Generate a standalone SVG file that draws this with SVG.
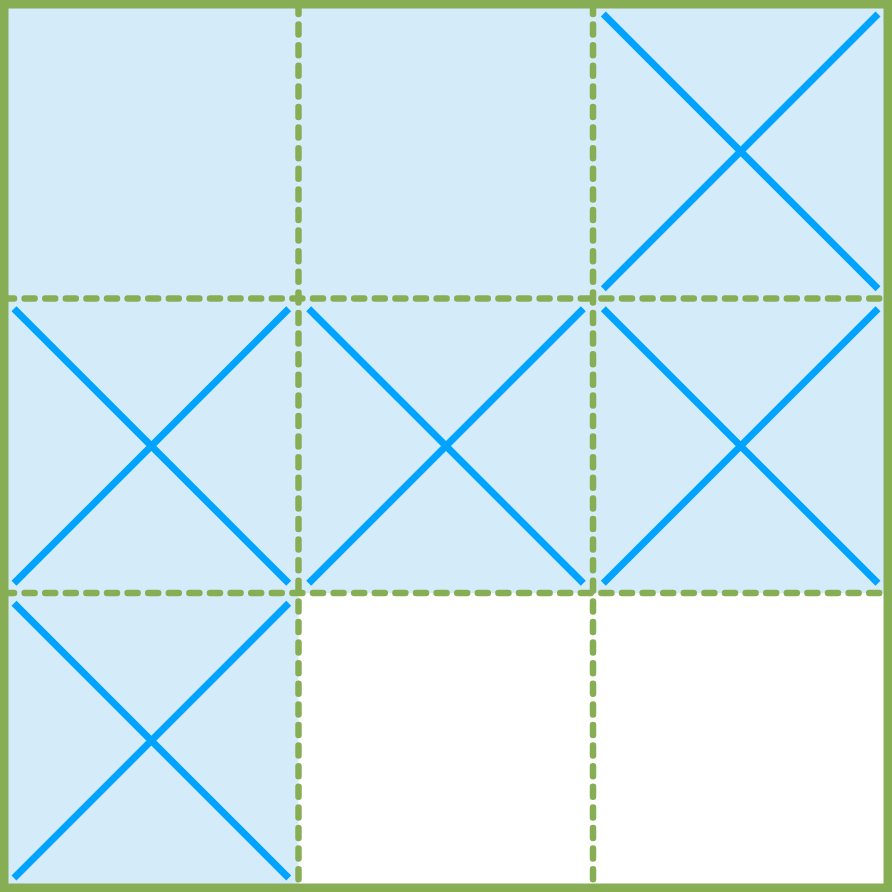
<svg xmlns="http://www.w3.org/2000/svg" width="892" height="892" viewBox="0 0 892 892">
<style>
.cell{fill:#d4ebf9;stroke:none}
.empty{fill:#ffffff;stroke:none}
.x{stroke:#00a3ff;stroke-width:7;fill:none;stroke-linecap:butt}
.grid{stroke:#88ae55;stroke-width:6.5;fill:none;stroke-dasharray:10 10.6;stroke-linecap:round}
.frame{fill:none;stroke:#88ae55;stroke-width:8.5}
</style>
<rect width="892" height="892" fill="#ffffff"/>
<g id="cell-r1c1"><rect class="cell" x="4" y="4" width="294.67" height="294.67"/></g>
<g id="cell-r1c2"><rect class="cell" x="298.67" y="4" width="294.67" height="294.67"/></g>
<g id="cell-r1c3"><rect class="cell" x="593.33" y="4" width="294.67" height="294.67"/>
<path class="x" d="M603.3 14 L878 288.7 M878 14 L603.3 288.7"/></g>
<g id="cell-r2c1"><rect class="cell" x="4" y="298.67" width="294.67" height="294.67"/>
<path class="x" d="M14 308.7 L288.7 583.3 M288.7 308.7 L14 583.3"/></g>
<g id="cell-r2c2"><rect class="cell" x="298.67" y="298.67" width="294.67" height="294.67"/>
<path class="x" d="M308.7 308.7 L583.3 583.3 M583.3 308.7 L308.7 583.3"/></g>
<g id="cell-r2c3"><rect class="cell" x="593.33" y="298.67" width="294.67" height="294.67"/>
<path class="x" d="M603.3 308.7 L878 583.3 M878 308.7 L603.3 583.3"/></g>
<g id="cell-r3c1"><rect class="cell" x="4" y="593.33" width="294.67" height="294.67"/>
<path class="x" d="M14 603.3 L288.7 878 M288.7 603.3 L14 878"/></g>
<g id="cell-r3c2"><rect class="empty" x="298.67" y="593.33" width="294.67" height="294.67"/></g>
<g id="cell-r3c3"><rect class="empty" x="593.33" y="593.33" width="294.67" height="294.67"/></g>
<g id="connectors">
<path class="grid" d="M298.5 4 V888 M593 4 V888 M4 298.5 H888 M4 593 H888"/>
</g>
<g id="frame"><rect class="frame" x="4.25" y="4.25" width="883.5" height="883.5"/></g>
</svg>
